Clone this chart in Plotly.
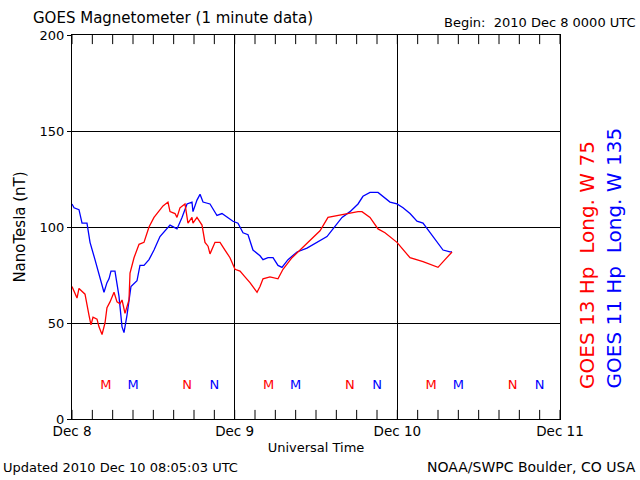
import plotly.graph_objects as go

# Hours since 2010 Dec 8 00:00 UTC
g13_hours = [0.0, 0.74, 1.03, 1.92, 2.51, 2.80, 3.10, 3.69, 3.98, 4.43, 4.87, 5.16, 5.61, 6.20, 6.64,
             7.08, 7.38, 7.82, 8.41, 8.56, 9.15, 9.89, 10.62, 11.36, 12.10, 12.54, 13.43, 14.16, 14.46,
             15.20, 15.49, 15.93, 16.67, 17.11, 17.70, 17.85, 18.44, 19.18, 19.62, 20.07, 20.36, 21.10,
             21.84, 22.57, 23.31, 24.05, 24.79, 25.52, 26.26, 27.30, 27.74, 28.18, 29.21, 30.39, 31.13,
             32.46, 33.64, 35.11, 36.59, 37.77, 39.10, 40.57, 42.20, 42.79, 43.97, 45.15, 46.18, 47.95,
             49.87, 51.79, 53.26, 54.00, 55.03, 56.07]
g13_nt = [69, 63, 68, 65, 54, 49, 53, 52, 48, 44, 50, 58, 61, 66, 61,
          60, 62, 55, 62, 76, 84, 91, 92, 100, 105, 107, 111, 113, 108,
          107, 105, 110, 112, 102, 105, 102, 105, 101, 92, 90, 86, 92,
          92, 88, 84, 78, 77, 74, 71, 66, 69, 73, 74, 73, 78,
          84, 88, 93, 98, 105, 106, 107, 108, 108, 105, 99, 97, 92,
          84, 82, 80, 79, 83, 87]

g11_hours = [0.0, 0.30, 1.03, 1.48, 2.21, 2.66, 3.39, 4.13, 4.72, 5.16, 5.46, 5.75, 6.34, 6.93, 7.38,
             7.67, 8.11, 8.70, 9.59, 10.03, 10.62, 11.36, 12.10, 12.98, 14.46, 15.49, 16.23, 16.97,
             17.70, 17.85, 18.44, 18.89, 19.33, 20.36, 21.39, 22.13, 23.02, 23.75, 24.49, 25.23, 25.97,
             26.70, 27.74, 28.18, 28.92, 29.66, 30.39, 30.98, 31.87, 33.20, 34.67, 36.15, 37.62, 38.51,
             39.84, 41.02, 42.20, 42.93, 43.97, 45.15, 45.89, 46.92, 47.95, 48.84, 49.87, 50.90, 51.79,
             52.82, 53.85, 54.74, 55.77, 56.07]
g11_nt = [112, 110, 109, 102, 102, 92, 83, 74, 66, 71, 73, 77, 77, 64, 48,
          45, 54, 69, 72, 80, 80, 83, 88, 95, 101, 99, 105, 112,
          113, 108, 114, 117, 113, 112, 106, 107, 105, 103, 102, 97, 96,
          88, 85, 83, 84, 84, 80, 79, 83, 87, 89, 92, 95, 99,
          105, 108, 112, 116, 118, 118, 116, 113, 112, 110, 107, 103, 102,
          97, 92, 88, 87, 87]

# Local midnight (M) / noon (N) markers, hours UT
g13_mark_hours = [5, 17, 29, 41, 53, 65]
g11_mark_hours = [9, 21, 33, 45, 57, 69]
mark_text = ["M", "N", "M", "N", "M", "N"]
mark_level = 17.5

day_ticks = [0, 24, 48, 72]
day_labels = ["Dec 8", "Dec 9", "Dec 10", "Dec 11"]
three_hour_ticks = list(range(0, 73, 3))
y_range = [0, 200]

RED = "#ff0000"
BLUE = "#0000ff"
FONT = "DejaVu Sans"
NB = "\u00a0"

fig = go.Figure()
fig.add_trace(go.Scatter(x=g11_hours, y=g11_nt, mode="lines",
                         line=dict(color=BLUE, width=1.3), showlegend=False))
fig.add_trace(go.Scatter(x=g13_hours, y=g13_nt, mode="lines",
                         line=dict(color=RED, width=1.3), showlegend=False))
fig.add_trace(go.Scatter(x=g13_mark_hours, y=[mark_level] * len(g13_mark_hours), mode="text",
                         text=mark_text, textfont=dict(color=RED, size=13, family=FONT),
                         showlegend=False))
fig.add_trace(go.Scatter(x=g11_mark_hours, y=[mark_level] * len(g11_mark_hours), mode="text",
                         text=mark_text, textfont=dict(color=BLUE, size=13, family=FONT),
                         showlegend=False))
# 3-hour tick marks on the bottom and top frame (half of each marker is clipped away)
for edge in y_range:
    fig.add_trace(go.Scatter(x=three_hour_ticks, y=[edge] * len(three_hour_ticks), mode="markers",
                             marker=dict(symbol="line-ns", size=13, color="black",
                                         line=dict(color="black", width=1)),
                             cliponaxis=True, hoverinfo="skip", showlegend=False))

fig.update_layout(
    width=640, height=480,
    margin=dict(l=72, r=80, t=35, b=61, autoexpand=False),
    paper_bgcolor="white", plot_bgcolor="white",
    font=dict(family=FONT, color="black", size=13),
    xaxis=dict(range=[0, 72], tickmode="array", tickvals=day_ticks, ticktext=day_labels,
               showgrid=True, gridcolor="black", gridwidth=1, ticks="",
               showline=True, linecolor="black", linewidth=1, mirror=True,
               zeroline=False, tickfont=dict(size=13.5), automargin=False,
               title=dict(text="Universal Time", font=dict(size=13), standoff=4)),
    yaxis=dict(range=y_range, tickmode="array", tickvals=[0, 50, 100, 150, 200],
               showgrid=True, gridcolor="black", gridwidth=1,
               ticks="outside", ticklen=4, tickcolor="black", tickwidth=1,
               showline=True, linecolor="black", linewidth=1, mirror=True,
               zeroline=False, tickfont=dict(size=13), automargin=False,
               title=dict(text="NanoTesla (nT)", font=dict(size=15), standoff=10)),
)

fig.add_annotation(text="GOES Magnetometer (1 minute data)", xref="paper", yref="paper",
                   x=0, xshift=-41, y=1.0, yshift=17, xanchor="left", yanchor="middle",
                   showarrow=False, font=dict(size=15))
fig.add_annotation(text="Begin:" + NB + NB + "2010 Dec 8 0000 UTC", xref="paper", yref="paper",
                   x=1.0, xshift=78, y=1.0, yshift=13, xanchor="right", yanchor="middle",
                   showarrow=False, font=dict(size=13))
fig.add_annotation(text="Updated 2010 Dec 10 08:05:03 UTC", xref="paper", yref="paper",
                   x=0, xshift=-71, y=0, yshift=-48, xanchor="left", yanchor="middle",
                   showarrow=False, font=dict(size=13))
fig.add_annotation(text="NOAA/SWPC Boulder, CO USA", xref="paper", yref="paper",
                   x=1.0, xshift=78, y=0, yshift=-48, xanchor="right", yanchor="middle",
                   showarrow=False, font=dict(size=14))
fig.add_annotation(text="GOES 13 Hp" + NB + NB + "Long. W 75", xref="paper", yref="paper",
                   x=1.0, xshift=27, y=0, yshift=28, xanchor="center", yanchor="bottom",
                   textangle=-90, showarrow=False, font=dict(size=20, color=RED))
fig.add_annotation(text="GOES 11 Hp" + NB + NB + "Long. W 135", xref="paper", yref="paper",
                   x=1.0, xshift=53, y=0, yshift=28, xanchor="center", yanchor="bottom",
                   textangle=-90, showarrow=False, font=dict(size=20, color=BLUE))

fig.write_html("out.html", config={"displayModeBar": False},
               post_script="document.body.style.margin='0';")
